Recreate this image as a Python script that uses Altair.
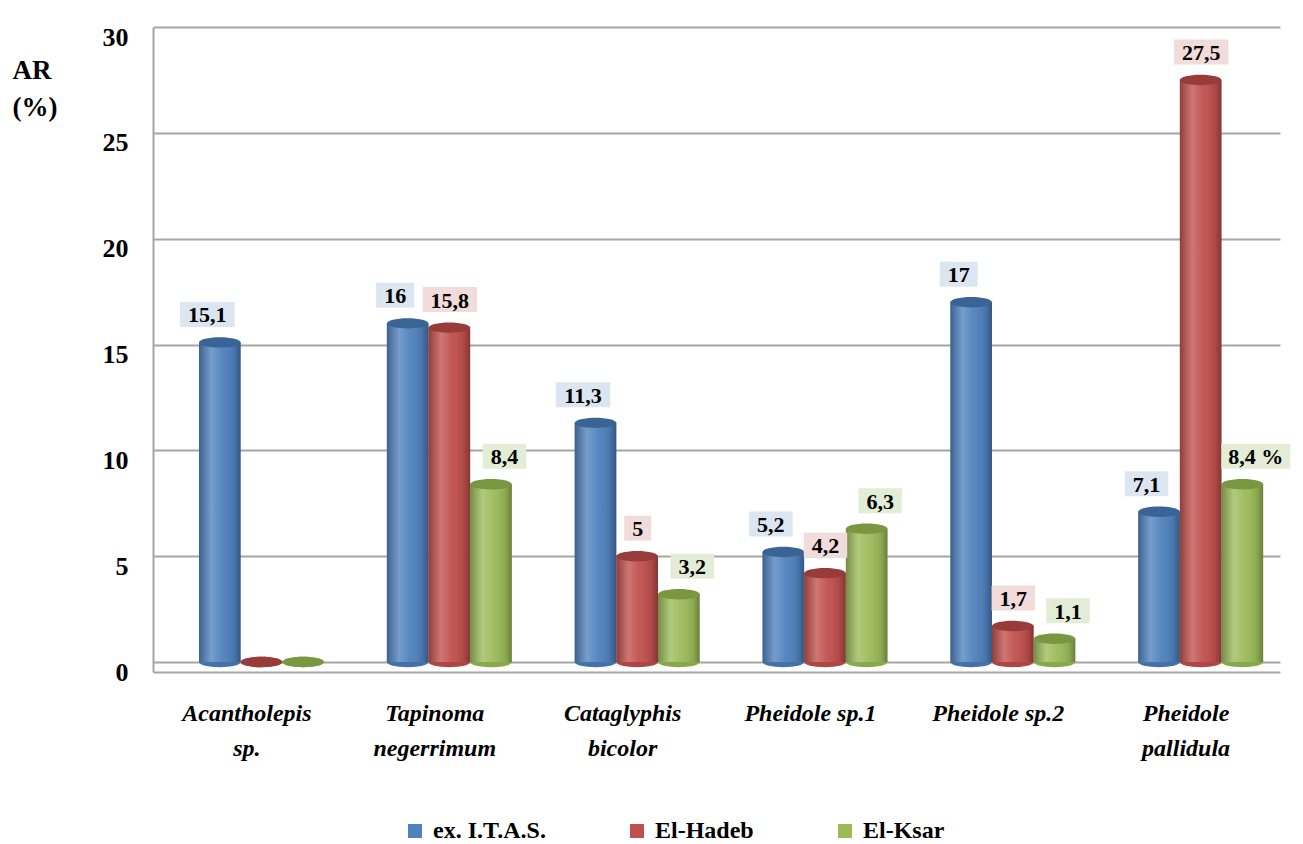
import altair as alt
import pandas as pd

categories = ["Acantholepis\nsp.", "Tapinoma\nnegerrimum", "Cataglyphis\nbicolor",
              "Pheidole sp.1", "Pheidole sp.2", "Pheidole\npallidula"]
series = ["ex. I.T.A.S.", "El-Hadeb", "El-Ksar"]
itas = [15.1, 16, 11.3, 5.2, 17, 7.1]
hadeb = [0, 15.8, 5, 4.2, 1.7, 27.5]
ksar = [0, 8.4, 3.2, 6.3, 1.1, 8.4]
labels_itas = ["15,1", "16", "11,3", "5,2", "17", "7,1"]
labels_hadeb = ["", "15,8", "5", "4,2", "1,7", "27,5"]
labels_ksar = ["", "8,4", "3,2", "6,3", "1,1", "8,4 %"]

colors = ["#4f81bd", "#c0504d", "#9bbb59"]
dark = ["#3a6396", "#983b39", "#789740"]
mid = ["#4472a8", "#ad4644", "#88a84c"]
pale = ["#dce6f1", "#f2dcdb", "#e3ecd5"]

rows = []
for vals, labs, s in [(itas, labels_itas, series[0]), (hadeb, labels_hadeb, series[1]), (ksar, labels_ksar, series[2])]:
    for c, v, l in zip(categories, vals, labs):
        rows.append({"category": c, "series": s, "value": v, "label": l})
df = pd.DataFrame(rows)

cw = {",": 5.5, " ": 5.5, "%": 20}
def box_w(t):
    return sum(cw.get(ch, 11) for ch in t) + 16

sidx = {s: i for i, s in enumerate(series)}
df["dark"] = df["series"].map(lambda s: dark[sidx[s]])
df["mid"] = df["series"].map(lambda s: mid[sidx[s]])
df["pale"] = df["series"].map(lambda s: pale[sidx[s]])
df["boxw"] = df["label"].map(box_w)
df["base0"] = 0.0
df_lab = df[df["label"] != ""]

FONT = "Times New Roman, Liberation Serif, Tinos, DejaVu Serif, serif"
ELL = "M-1,0A1,0.25,0,1,0,1,0A1,0.25,0,1,0,-1,0Z"

x_enc = alt.X("category:N", sort=categories, title=None,
              scale=alt.Scale(paddingInner=0, paddingOuter=0),
              axis=alt.Axis(labelAngle=0, labelFont=FONT, labelFontSize=24, labelFontWeight="bold",
                            labelFontStyle="italic", labelColor="black", labelLineHeight=35,
                            labelPadding=29, ticks=False, domainColor="#a6a6a6", domainWidth=2,
                            labelExpr="split(datum.label, '\\n')"))
y_enc = alt.Y("value:Q", title=["AR", "(%)"],
              scale=alt.Scale(domain=[-0.47, 30], nice=False, zero=False),
              axis=alt.Axis(values=[0, 5, 10, 15, 20, 25, 30], labelFont=FONT, labelFontSize=26,
                            labelFontWeight="bold", labelColor="black", labelPadding=25, labelOffset=10,
                            ticks=False, domainColor="#a6a6a6", domainWidth=2,
                            grid=True, gridColor="#a6a6a6", gridWidth=2,
                            titleFont=FONT, titleFontSize=27, titleFontWeight="bold", titleColor="black",
                            titleAngle=0, titleAlign="left", titleBaseline="alphabetic",
                            titleX=-141, titleY=51, titleLineHeight=37))
xo_bar = alt.XOffset("series:N", sort=series,
                     scale=alt.Scale(type="band", domain=series, range=[46, 171], paddingInner=0, paddingOuter=0))
xo_lab = alt.XOffset("series:N", sort=series,
                     scale=alt.Scale(type="band", domain=series, range=[27, 191], paddingInner=0, paddingOuter=0))

base = alt.Chart(df)

bottom = base.mark_point(shape=ELL, size=1736, filled=True, opacity=1, strokeWidth=0).encode(
    x=x_enc, xOffset=xo_bar, y=alt.Y("base0:Q"), fill=alt.Fill("mid:N", scale=None))

bars = base.mark_bar().encode(
    x=x_enc, xOffset=xo_bar, y=y_enc,
    color=alt.Color("series:N", sort=series, scale=alt.Scale(domain=series, range=colors),
                    legend=alt.Legend(title=None, orient="none", legendX=250, legendY=792,
                                      direction="horizontal", symbolType="square", symbolSize=196,
                                      symbolStrokeWidth=0, labelFont=FONT, labelFontSize=24,
                                      labelFontWeight="bold", labelColor="black", labelOffset=6,
                                      labelLimit=400, columnPadding=79)))

grad = alt.LinearGradient(gradient="linear", x1=0, x2=1, y1=0, y2=0, stops=[
    alt.GradientStop(offset=0, color="rgba(0,0,0,0.25)"),
    alt.GradientStop(offset=0.3, color="rgba(255,255,255,0.22)"),
    alt.GradientStop(offset=0.55, color="rgba(255,255,255,0.05)"),
    alt.GradientStop(offset=0.85, color="rgba(0,0,0,0.1)"),
    alt.GradientStop(offset=1, color="rgba(0,0,0,0.32)"),
])
shade = base.mark_bar(color=grad).encode(x=x_enc, xOffset=xo_bar, y=y_enc)

top = base.mark_point(shape=ELL, size=1736, filled=True, opacity=1, strokeWidth=0).encode(
    x=x_enc, xOffset=xo_bar, y=y_enc, fill=alt.Fill("dark:N", scale=None))

lab = alt.Chart(df_lab)
boxes = lab.mark_tick(thickness=25, yOffset=-28, opacity=1, filled=True).encode(
    x=x_enc, xOffset=xo_lab, y=y_enc,
    size=alt.Size("boxw:Q", scale=None), fill=alt.Fill("pale:N", scale=None))
texts = lab.mark_text(font=FONT, fontSize=22, fontWeight="bold", color="black",
                      baseline="middle", dy=-27).encode(
    x=x_enc, xOffset=xo_lab, y=y_enc, text="label:N")

chart = alt.layer(bottom, bars, shade, top, boxes, texts).resolve_scale(
    xOffset="independent"
).properties(
    width=1127, height=645,
    autosize=alt.AutoSizeParams(type="none"),
    padding={"left": 153, "top": 27, "right": 23, "bottom": 172},
    background="white",
).configure_view(stroke=None)

chart.save("out.html", embed_options={"renderer": "svg", "actions": False})
